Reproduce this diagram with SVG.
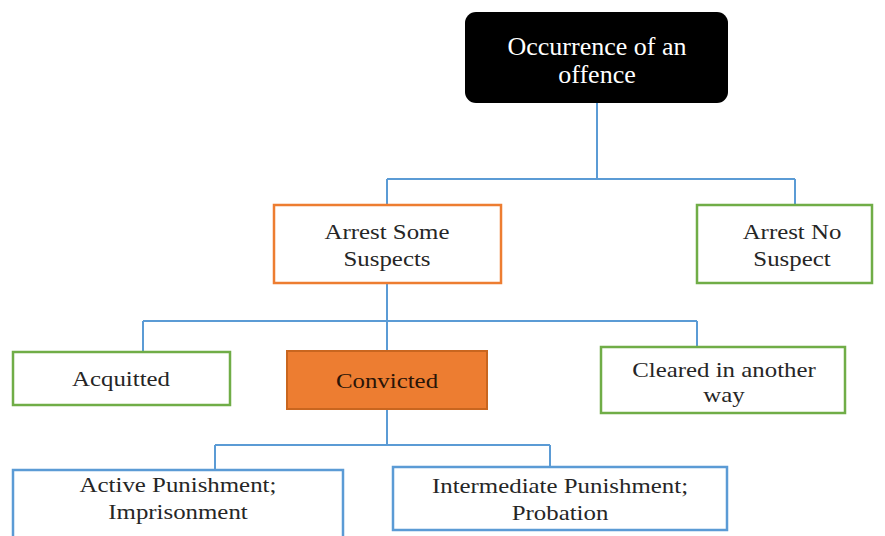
<svg xmlns="http://www.w3.org/2000/svg" width="885" height="536" viewBox="0 0 885 536">
<style>
.box{fill:#fff;stroke-width:2.5}
.or{stroke:#ED7D31}
.gr{stroke:#70AD47}
.bl{stroke:#5B9BD5}
.conn{fill:none;stroke:#5B9BD5;stroke-width:2}
text{font-family:"Liberation Serif","Times New Roman",serif;font-size:22px;fill:#262626;text-anchor:middle}
.wt{fill:#fff;font-size:26px}
</style>
<rect width="885" height="536" fill="#fff"/>
<g id="connectors">
<path class="conn" d="M597 103V179M387 179H795M387 179V205M795 179V205"/>
<path class="conn" d="M387 283V321M143 321H697M143 321V352M387 321V351M697 321V347"/>
<path class="conn" d="M387 409V445M215 445H550M215 445V470M550 445V467"/>
</g>
<g id="occurrence">
<rect x="465" y="12" width="263" height="91" rx="11" fill="#000"/>
<text class="wt" x="597" y="55">Occurrence of an</text>
<text class="wt" x="597" y="83">offence</text>
</g>
<g id="arrest-some">
<rect class="box or" x="274" y="205" width="227" height="78"/>
<g transform="translate(387,0) scale(1.13,1)">
<text x="0" y="239">Arrest Some</text>
<text x="0" y="266">Suspects</text>
</g>
</g>
<g id="arrest-no">
<rect class="box gr" x="697" y="205" width="175" height="78"/>
<g transform="translate(792,0) scale(1.13,1)">
<text x="0" y="239">Arrest No</text>
<text x="0" y="266">Suspect</text>
</g>
</g>
<g id="acquitted">
<rect class="box gr" x="13" y="352" width="217" height="53"/>
<g transform="translate(121,0) scale(1.13,1)">
<text x="0" y="386">Acquitted</text>
</g>
</g>
<g id="convicted">
<rect x="287" y="351" width="200" height="58" fill="#ED7D31" stroke="#C9661F" stroke-width="2"/>
<g transform="translate(387,0) scale(1.13,1)">
<text x="0" y="388" style="fill:#2a1508">Convicted</text>
</g>
</g>
<g id="cleared">
<rect class="box gr" x="601" y="347" width="244" height="66"/>
<g transform="translate(724,0) scale(1.13,1)">
<text x="0" y="377">Cleared in another</text>
<text x="0" y="402">way</text>
</g>
</g>
<g id="active">
<rect class="box bl" x="13" y="470" width="330" height="80"/>
<g transform="translate(178,0) scale(1.13,1)">
<text x="0" y="492">Active Punishment;</text>
<text x="0" y="519">Imprisonment</text>
</g>
</g>
<g id="intermediate">
<rect class="box bl" x="393" y="467" width="334" height="63"/>
<g transform="translate(560,0) scale(1.13,1)">
<text x="0" y="493">Intermediate Punishment;</text>
<text x="0" y="520">Probation</text>
</g>
</g>
</svg>
